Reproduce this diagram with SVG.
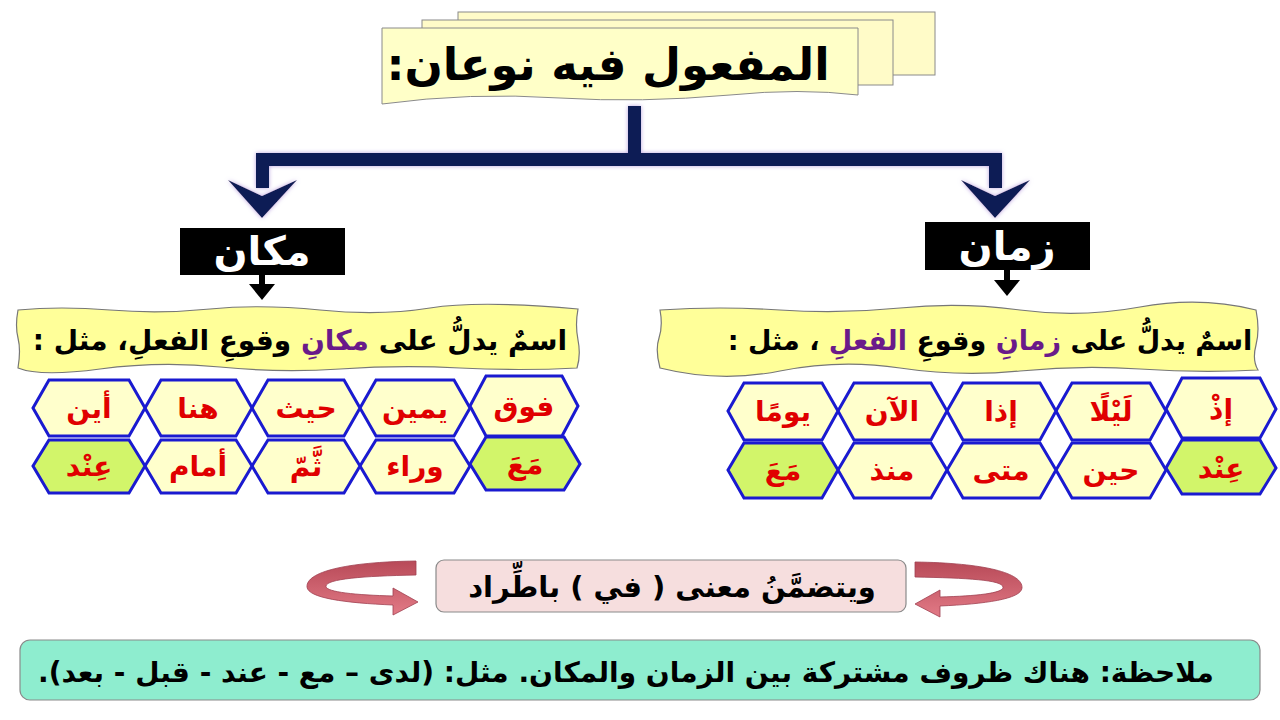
<svg xmlns="http://www.w3.org/2000/svg" width="1280" height="720" viewBox="0 0 1280 720">
<defs>
<style>
.ar{font-family:"DejaVu Sans",sans-serif;font-weight:bold;direction:rtl;text-anchor:middle}
.hex{fill:#ffffcc;stroke:#1a1ad0;stroke-width:3}
.hexg{fill:#d2f56a;stroke:#1a1ad0;stroke-width:3}
.ht{font-size:28px;fill:#e00000}
.nav{fill:#0a1f55}
.blk{fill:#000}
</style>
<linearGradient id="rib" x1="0" y1="0" x2="0" y2="1">
<stop offset="0" stop-color="#b84a58"/><stop offset="1" stop-color="#e27a86"/>
</linearGradient>
<filter id="glow" x="-20%" y="-20%" width="140%" height="140%">
<feDropShadow dx="0" dy="0" stdDeviation="2" flood-color="#b9a0e0"/>
</filter>
</defs>
<rect width="1280" height="720" fill="#ffffff"/>

<g id="title">
<rect x="458" y="12" width="477" height="63" fill="#fffbc8" stroke="#8a8a8a"/>
<rect x="422" y="20" width="471" height="65" fill="#fffbc8" stroke="#8a8a8a"/>
<path d="M382,28 L858,28 L858,95 Q800,88 730,95 Q640,103 560,98 Q470,92 382,104 Z" fill="#ffffc8" stroke="#8a8a8a"/>
<text class="ar" x="608" y="80" font-size="45" fill="#000">المفعول فيه نوعان:</text>
</g>

<g id="connectors" filter="url(#glow)">
<rect class="nav" x="628" y="106" width="13" height="56"/>
<rect class="nav" x="256" y="153" width="746" height="13"/>
<rect class="nav" x="256" y="153" width="13" height="35"/>
<polygon class="nav" points="228,180 262,196 297,180 262,218"/>
<rect class="nav" x="989" y="153" width="13" height="35"/>
<polygon class="nav" points="961,180 995,196 1030,180 995,218"/>
</g>
<g id="label-arrows">
<rect class="blk" x="259" y="272" width="6" height="14"/>
<polygon class="blk" points="249,284 275,284 262,300"/>
<rect class="blk" x="1004" y="268" width="6" height="14"/>
<polygon class="blk" points="994,280 1020,280 1007,296"/>
</g>

<g id="makan">
<rect x="180" y="228" width="165" height="47" fill="#000"/>
<text class="ar" x="262" y="265" font-size="40" fill="#fff">مكان</text>
</g>
<g id="zaman">
<rect x="925" y="222" width="165" height="48" fill="#000"/>
<text class="ar" x="1007" y="260" font-size="40" fill="#fff">زمان</text>
</g>

<g id="def-makan">
<path d="M18,310 Q60,306 110,310 T210,309 T320,310 T430,308 T578,309 Q575,325 578,340 T577,368 Q520,371 460,368 T340,369 T220,367 T100,369 T18,368 Q21,350 18,338 T18,310 Z" fill="#ffff99" stroke="#777" stroke-width="1.2"/>
<text class="ar" x="300" y="350" font-size="28" fill="#000">اسمٌ يدلُّ على <tspan fill="#6a1a8a">مكانِ</tspan> وقوعِ الفعلِ، مثل :</text>
</g>

<g id="def-zaman">
<path d="M660,310 Q720,306 780,310 T900,308 T1020,310 T1140,307 T1256,310 Q1260,330 1256,345 T1258,370 Q1200,373 1140,369 T1020,371 T900,368 T780,371 T660,368 Q655,350 659,338 T660,310 Z" fill="#ffff99" stroke="#777" stroke-width="1.2"/>
<text class="ar" x="990" y="350" font-size="27" fill="#000">اسمٌ يدلُّ على <tspan fill="#6a1a8a">زمانِ</tspan> وقوعِ <tspan fill="#6a1a8a">الفعلِ</tspan> ، مثل :</text>
</g>

<g id="makan-words">
<g id="h-fawq"><polygon class="hex" points="470,406 486,376 562,376 578,406 562,436 486,436"/><text class="ar ht" x="524" y="416">فوق</text></g>
<g id="h-yameen"><polygon class="hex" points="360,408 376,380 454,380 470,408 454,436 376,436"/><text class="ar ht" x="415" y="418">يمين</text></g>
<g id="h-haith"><polygon class="hex" points="252,408 268,380 344,380 360,408 344,436 268,436"/><text class="ar ht" x="306" y="418">حيث</text></g>
<g id="h-huna"><polygon class="hex" points="145,408 161,380 236,380 252,408 236,436 161,436"/><text class="ar ht" x="198" y="418">هنا</text></g>
<g id="h-ayna"><polygon class="hex" points="33,408 49,380 129,380 145,408 129,436 49,436"/><text class="ar ht" x="89" y="418">أين</text></g>
<g id="h-maa1"><polygon class="hexg" points="470,464 486,437 564,437 580,464 564,490 486,490"/><text class="ar ht" x="525" y="474">مَعَ</text></g>
<g id="h-waraa"><polygon class="hex" points="360,466 376,440 454,440 470,466 454,493 376,493"/><text class="ar ht" x="415" y="476">وراء</text></g>
<g id="h-thamma"><polygon class="hex" points="252,466 268,440 344,440 360,466 344,493 268,493"/><text class="ar ht" x="306" y="476">ثَّمّ</text></g>
<g id="h-amam"><polygon class="hex" points="145,466 161,440 236,440 252,466 236,493 161,493"/><text class="ar ht" x="198" y="476">أمام</text></g>
<g id="h-inda1"><polygon class="hexg" points="33,466 49,440 129,440 145,466 129,493 49,493"/><text class="ar ht" x="89" y="476">عِنْد</text></g>
</g>

<g id="zaman-words">
<g id="h-ith"><polygon class="hex" points="1166,409 1182,378 1260,378 1276,409 1260,438 1182,438"/><text class="ar ht" x="1221" y="419">إذْ</text></g>
<g id="h-laila"><polygon class="hex" points="1056,411 1072,383 1150,383 1166,411 1150,440 1072,440"/><text class="ar ht" x="1111" y="421">لَيْلًا</text></g>
<g id="h-itha"><polygon class="hex" points="947,411 963,383 1040,383 1056,411 1040,440 963,440"/><text class="ar ht" x="1001" y="421">إذا</text></g>
<g id="h-alaan"><polygon class="hex" points="838,411 854,383 931,383 947,411 931,440 854,440"/><text class="ar ht" x="892" y="421">الآن</text></g>
<g id="h-yawman"><polygon class="hex" points="728,411 744,383 822,383 838,411 822,440 744,440"/><text class="ar ht" x="783" y="421">يومًا</text></g>
<g id="h-inda2"><polygon class="hexg" points="1166,468 1182,440 1260,440 1276,468 1260,494 1182,494"/><text class="ar ht" x="1221" y="478">عِنْد</text></g>
<g id="h-heen"><polygon class="hex" points="1056,470 1072,443 1150,443 1166,470 1150,498 1072,498"/><text class="ar ht" x="1111" y="480">حين</text></g>
<g id="h-mata"><polygon class="hex" points="947,470 963,443 1040,443 1056,470 1040,498 963,498"/><text class="ar ht" x="1001" y="480">متى</text></g>
<g id="h-munthu"><polygon class="hex" points="838,470 854,443 931,443 947,470 931,498 854,498"/><text class="ar ht" x="892" y="480">منذ</text></g>
<g id="h-maa2"><polygon class="hexg" points="728,470 744,443 822,443 838,470 822,498 744,498"/><text class="ar ht" x="783" y="480">مَعَ</text></g>
</g>

<g id="curl-arrows">
<path d="M416,561 C345,562 306,572 307,587 C308,598 345,603 393,605 L393,615 L418,602 L393,588 L393,596 C355,595 325,592 326,586 C327,579 362,576 416,575 Z" fill="url(#rib)" stroke="#a04050" stroke-width="0.8"/>
<path d="M915,562 C985,563 1023,573 1022,588 C1021,599 985,604 940,606 L940,617 L915,604 L940,590 L940,597 C978,596 1004,593 1003,587 C1002,580 968,578 915,577 Z" fill="url(#rib)" stroke="#a04050" stroke-width="0.8"/>
</g>

<g id="itirad">
<rect x="436" y="560" width="470" height="52" rx="8" fill="#f6dede" stroke="#8a8a8a" stroke-width="1.2"/>
<text class="ar" x="672" y="597" font-size="29" fill="#000">ويتضمَّنُ معنى ( في ) باطِّراد</text>
</g>

<g id="note">
<rect x="20" y="640" width="1240" height="60" rx="10" fill="#8eedcf" stroke="#8a8a8a" stroke-width="1.2"/>
<text class="ar" x="626" y="682" font-size="28" fill="#000">ملاحظة: هناك ظروف مشتركة بين الزمان والمكان. مثل: (لدى – مع - عند - قبل - بعد).</text>
</g>
</svg>
